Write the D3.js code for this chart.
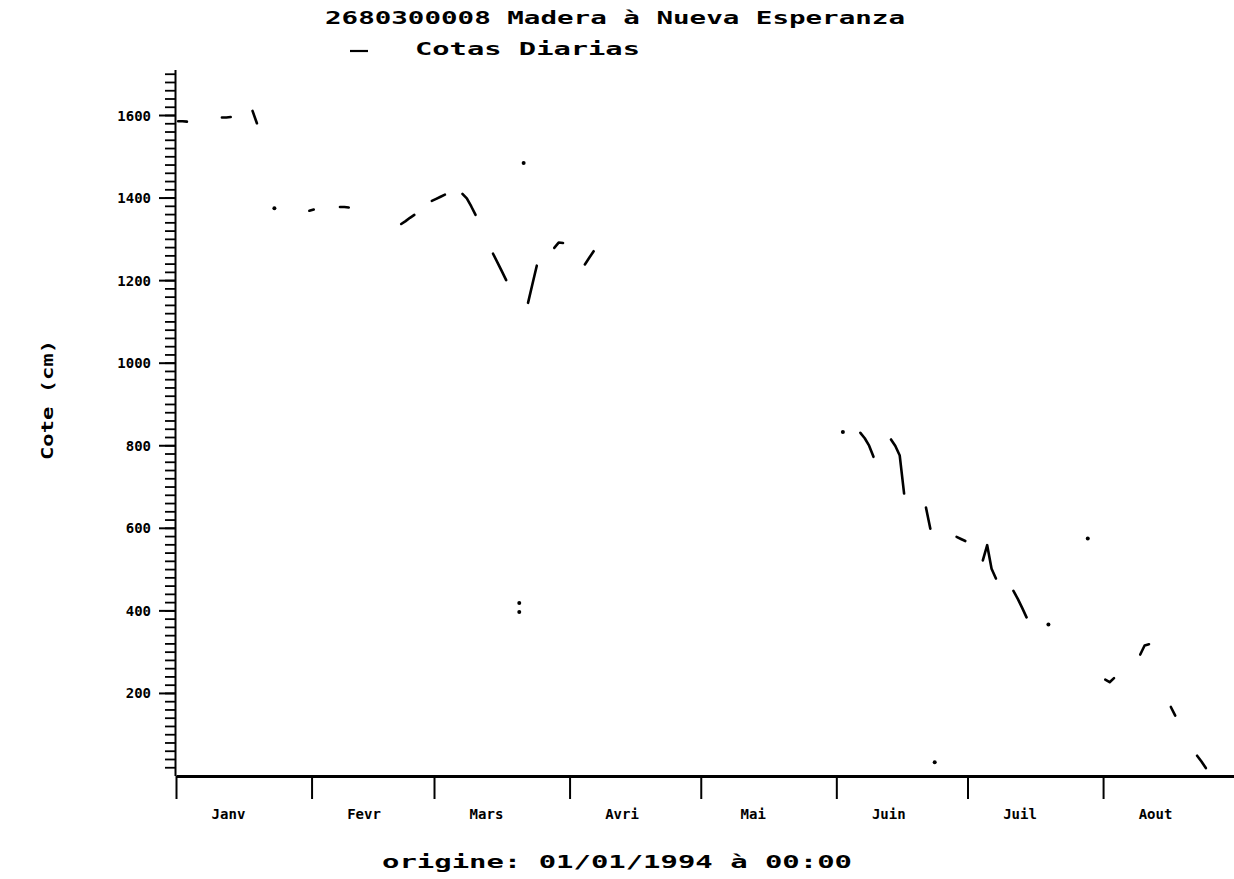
<!DOCTYPE html>
<html>
<head>
<meta charset="utf-8">
<script src="https://cdn.jsdelivr.net/npm/d3@7"></script>
<style>
  html, body { margin: 0; padding: 0; background: #fff; }
  svg { display: block; }
  text { font-family: "DejaVu Sans Mono", monospace; font-weight: bold; fill: #000; }
</style>
</head>
<body>
<svg id="chart" width="1234" height="879"></svg>
<script>
// ---- data ----
const titleText = "2680300008 Madera à Nueva Esperanza";
const legendText = "Cotas Diarias";
const yLabelText = "Cote (cm)";
const originText = "origine: 01/01/1994 à 00:00";
const monthLabels = ["Janv", "Fevr", "Mars", "Avri", "Mai", "Juin", "Juil", "Aout"];
const yTickLabels = [200, 400, 600, 800, 1000, 1200, 1400, 1600];

// start date of each run of consecutive daily readings
const segStart = [
  "1994-01-01", "1994-01-11", "1994-01-18", "1994-01-23", "1994-01-31",
  "1994-02-07", "1994-02-21", "1994-02-28", "1994-03-07", "1994-03-14",
  "1994-03-20", "1994-03-20", "1994-03-21", "1994-03-22", "1994-03-28",
  "1994-04-04", "1994-06-02", "1994-06-06", "1994-06-13", "1994-06-21",
  "1994-06-23", "1994-06-28", "1994-07-04", "1994-07-11", "1994-07-19",
  "1994-07-28", "1994-08-01", "1994-08-09", "1994-08-16", "1994-08-22"
];
// daily stage values (cm) for each run
const segCotes = [
  [1585, 1585, 1584], [1594, 1594, 1595], [1610, 1580], [1374], [1368, 1371],
  [1377, 1377, 1376], [1336, 1343, 1351, 1358], [1392, 1397, 1402, 1407],
  [1409, 1398, 1379, 1358], [1264, 1243, 1222, 1200],
  [418], [396], [1484], [1145, 1190, 1235], [1278, 1291, 1290],
  [1238, 1254, 1270], [832], [830, 817, 799, 772], [814, 798, 775, 683], [649, 598],
  [32], [578, 573, 568], [521, 558, 501, 477], [447, 428, 406, 383], [366],
  [574], [232, 226, 236], [293, 315, 318], [166, 145], [48, 34, 18]
];

// ---- layout ----
const svg = d3.select("#chart");
const parse = d3.timeParse("%Y-%m-%d");
const t0 = parse("1994-01-01"), t1 = parse("1994-09-01");
const x = d3.scaleTime().domain([t0, t1]).range([176, 176 + 243 * 4.373]);
const y = d3.scaleLinear().domain([0, 1710]).range([775.5, 69.6]);

const series = segStart.map((s, i) => {
  const d0 = parse(s);
  return segCotes[i].map((v, k) => ({ date: d3.timeHour.offset(d3.timeDay.offset(d0, k), 12), v }));
});

// y axis: minor ticks
const minor = d3.range(20, 1701, 20);
const gyMinor = svg.append("g").attr("transform", "translate(175,0)")
  .call(d3.axisLeft(y).tickValues(minor).tickSize(10).tickSizeOuter(0).tickFormat(""));
gyMinor.selectAll(".tick line").attr("stroke", "#000").attr("stroke-width", 1.8);
gyMinor.select(".domain").attr("stroke", "#000").attr("stroke-width", 2);

const gy = svg.append("g").attr("transform", "translate(175,0)")
  .call(d3.axisLeft(y).tickValues(yTickLabels).tickSize(16).tickSizeOuter(0).tickPadding(8)
    .tickFormat(d3.format("d")));
gy.select(".domain").remove();
gy.selectAll(".tick line").attr("stroke", "#000").attr("stroke-width", 2);
gy.selectAll(".tick text").attr("font-size", 14).attr("font-family", "DejaVu Sans Mono")
  .attr("font-weight", "bold").attr("dy", "0.36em");

// x axis
const months = d3.timeMonth.range(t0, t1);
const gx = svg.append("g").attr("transform", "translate(0,776)")
  .call(d3.axisBottom(x).tickValues(months).tickSize(23).tickSizeOuter(0).tickFormat(""));
gx.select(".domain").attr("stroke", "#000").attr("stroke-width", 3);
gx.selectAll(".tick line").attr("stroke", "#000").attr("stroke-width", 2);

svg.append("g").selectAll("text").data(months).join("text")
  .attr("x", d => x(d3.timeDay.offset(d, 12)))
  .attr("y", 819)
  .attr("text-anchor", "middle")
  .attr("font-size", 14)
  .text((d, i) => monthLabels[i]);

// data
const line = d3.line().x(d => x(d.date)).y(d => y(d.v));
const plot = svg.append("g");
plot.selectAll("path").data(series.filter(s => s.length > 1)).join("path")
  .attr("d", line)
  .attr("fill", "none").attr("stroke", "#000").attr("stroke-width", 2.6)
  .attr("stroke-linecap", "round").attr("stroke-linejoin", "round");
plot.selectAll("circle").data(series.filter(s => s.length === 1)).join("circle")
  .attr("cx", s => x(s[0].date)).attr("cy", s => y(s[0].v)).attr("r", 2).attr("fill", "#000");

// titles
svg.append("text").attr("x", 325).attr("y", 24).attr("font-size", 17)
  .attr("textLength", 580).attr("lengthAdjust", "spacingAndGlyphs").text(titleText);
svg.append("line").attr("x1", 350).attr("x2", 368).attr("y1", 51).attr("y2", 51)
  .attr("stroke", "#000").attr("stroke-width", 2.2);
svg.append("text").attr("x", 415).attr("y", 55).attr("font-size", 17)
  .attr("textLength", 225).attr("lengthAdjust", "spacingAndGlyphs").text(legendText);
svg.append("text").attr("transform", "translate(53,400) rotate(-90)")
  .attr("text-anchor", "middle").attr("font-size", 15)
  .attr("textLength", 120).attr("lengthAdjust", "spacingAndGlyphs").text(yLabelText);
svg.append("text").attr("x", 617).attr("y", 868).attr("text-anchor", "middle").attr("font-size", 17)
  .attr("textLength", 470).attr("lengthAdjust", "spacingAndGlyphs").text(originText);
</script>
</body>
</html>
